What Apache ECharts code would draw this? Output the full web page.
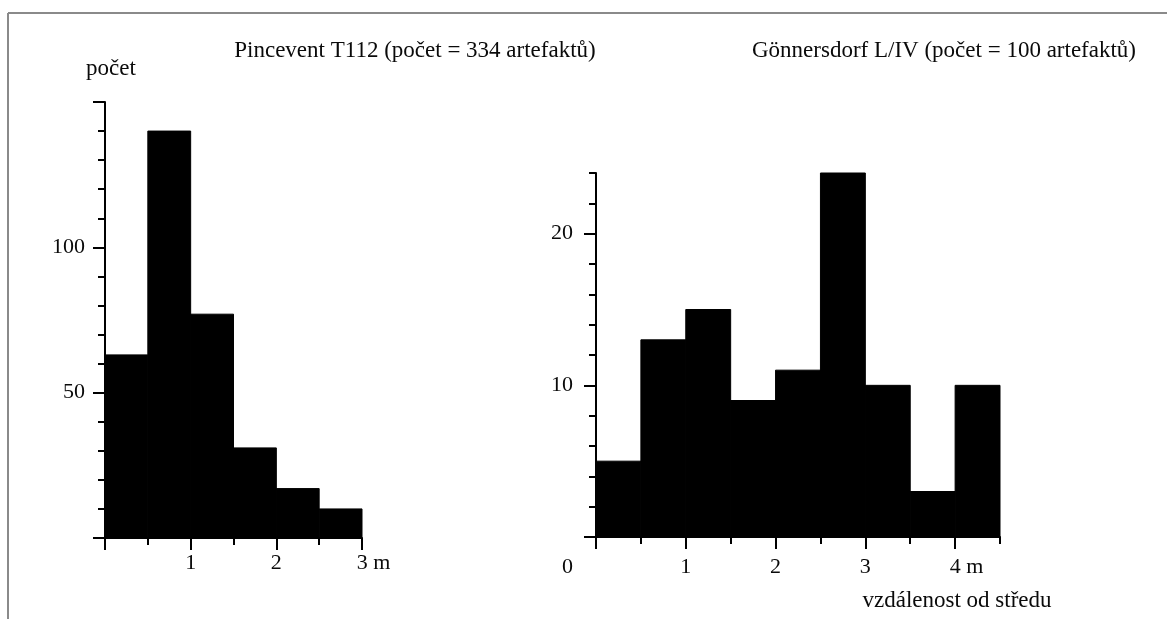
<!DOCTYPE html>
<html>
<head>
<meta charset="utf-8">
<script src="https://cdn.jsdelivr.net/npm/echarts@6/dist/echarts.min.js"></script>
<style>
html,body{margin:0;padding:0;background:#fff;}
#chart{width:1167px;height:619px;}
</style>
</head>
<body>
<div id="chart"></div>
<script>
// ---- data ----
const leftTitle = 'Pincevent T112 (počet = 334 artefaktů)';
const rightTitle = 'Gönnersdorf L/IV (počet = 100 artefaktů)';
const yName = 'počet';
const xName = 'vzdálenost od středu';

const binWidth = 0.5;
const leftBins = [0, 0.5, 1, 1.5, 2, 2.5];
const leftCounts = [63, 140, 77, 31, 17, 10];
const rightBins = [0, 0.5, 1, 1.5, 2, 2.5, 3, 3.5, 4];
const rightCounts = [5, 13, 15, 9, 11, 24, 10, 3, 10];

const leftXMajorTicks = [0, 1, 2, 3];
const leftXMinorTicks = [0.5, 1.5, 2.5];
const leftXLabels = [1, 2, 3];
const leftYMajorTicks = [0, 50, 100, 150];
const leftYMinorTicks = [10, 20, 30, 40, 60, 70, 80, 90, 110, 120, 130, 140];
const leftYLabels = [50, 100];

const rightXMajorTicks = [0, 1, 2, 3, 4];
const rightXMinorTicks = [0.5, 1.5, 2.5, 3.5, 4.5];
const rightXLabels = [0, 1, 2, 3, 4];
const rightYMajorTicks = [0, 10, 20];
const rightYMinorTicks = [2, 4, 6, 8, 12, 14, 16, 18, 22, 24];
const rightYLabels = [10, 20];

// ---- styling ----
const FONT = 'Liberation Serif';
const INK = '#0a0a0a';
const TICK_FS = 22;
const TEXT_FS = 23;
const lineStyle = {color: '#000', width: 2};
const labelBase = {color: INK, fontFamily: FONT, fontSize: TICK_FS};
const rich = {
  n: {fontFamily: FONT, fontSize: TICK_FS, color: INK},
  u: {fontFamily: FONT, fontSize: TICK_FS, color: INK},
  s: {fontFamily: FONT, fontSize: TICK_FS, width: 23},
  z: {fontFamily: FONT, fontSize: TICK_FS, color: INK},
  sp: {fontFamily: FONT, fontSize: TICK_FS, width: 57}
};

function binData(bins, counts) {
  return bins.map((b, i) => [b, b + binWidth, counts[i]]);
}
function renderBin(params, api) {
  const p0 = api.coord([api.value(0), 0]);
  const p1 = api.coord([api.value(1), api.value(2)]);
  return {
    type: 'rect',
    shape: {x: p0[0], y: p1[1], width: p1[0] - p0[0], height: p0[1] - p1[1]},
    style: {fill: '#000', stroke: '#000', lineWidth: 1}
  };
}

function xMajor(grid, max, ticks, labels, fmt, margin) {
  return {
    type: 'value', gridIndex: grid, min: 0, max: max, position: 'bottom',
    axisLine: {show: true, onZero: false, lineStyle: lineStyle},
    axisTick: {show: true, customValues: ticks, length: 12, lineStyle: lineStyle},
    axisLabel: Object.assign({show: true, customValues: labels, margin: margin, formatter: fmt, rich: rich}, labelBase),
    splitLine: {show: false}
  };
}
function xMinor(grid, max, ticks) {
  return {
    type: 'value', gridIndex: grid, min: 0, max: max, position: 'bottom',
    axisLine: {show: false, onZero: false},
    axisTick: {show: true, customValues: ticks, length: 7, lineStyle: lineStyle},
    axisLabel: {show: false},
    splitLine: {show: false}
  };
}
function yMajor(grid, max, ticks, labels, margin) {
  return {
    type: 'value', gridIndex: grid, min: 0, max: max, position: 'left',
    axisLine: {show: true, onZero: false, lineStyle: lineStyle},
    axisTick: {show: true, customValues: ticks, length: 12, lineStyle: lineStyle},
    axisLabel: Object.assign({show: true, customValues: labels, margin: margin}, labelBase),
    splitLine: {show: false}
  };
}
function yMinor(grid, max, ticks) {
  return {
    type: 'value', gridIndex: grid, min: 0, max: max, position: 'left',
    axisLine: {show: false, onZero: false},
    axisTick: {show: true, customValues: ticks, length: 7, lineStyle: lineStyle},
    axisLabel: {show: false},
    splitLine: {show: false}
  };
}

const chart = echarts.init(document.getElementById('chart'), null, {renderer: 'canvas'});
const option = {
  backgroundColor: '#fff',
  animation: false,
  grid: [
    {left: 105, right: 805, top: 102, bottom: 81},
    {left: 596, right: 167, top: 173, bottom: 82}
  ],
  xAxis: [
    xMajor(0, 3, leftXMajorTicks, leftXLabels, v => v === 3 ? '{s| }{n|3}{u| m}' : '{n|' + v + '}', 14),
    xMinor(0, 3, leftXMinorTicks),
    xMajor(1, 4.5, rightXMajorTicks, rightXLabels, v => v === 0 ? '{z|0}{sp| }' : (v === 4 ? '{s| }{n|4}{u| m}' : '{n|' + v + '}'), 19),
    xMinor(1, 4.5, rightXMinorTicks)
  ],
  yAxis: [
    yMajor(0, 150, leftYMajorTicks, leftYLabels, 20),
    yMinor(0, 150, leftYMinorTicks),
    yMajor(1, 24, rightYMajorTicks, rightYLabels, 23),
    yMinor(1, 24, rightYMinorTicks)
  ],
  series: [
    {type: 'custom', name: leftTitle, xAxisIndex: 0, yAxisIndex: 0, renderItem: renderBin,
     encode: {x: [0, 1], y: 2}, data: binData(leftBins, leftCounts), silent: true},
    {type: 'custom', name: rightTitle, xAxisIndex: 2, yAxisIndex: 2, renderItem: renderBin,
     encode: {x: [0, 1], y: 2}, data: binData(rightBins, rightCounts), silent: true}
  ],
  graphic: [
    {type: 'line', shape: {x1: 8, y1: 13, x2: 1167, y2: 13}, style: {stroke: '#8a8a8a', lineWidth: 2}},
    {type: 'line', shape: {x1: 8, y1: 13, x2: 8, y2: 619}, style: {stroke: '#8a8a8a', lineWidth: 2}},
    {type: 'text', x: 415, y: 51, style: {text: leftTitle, font: TEXT_FS + 'px "' + FONT + '"', fill: INK, align: 'center', verticalAlign: 'middle'}},
    {type: 'text', x: 944, y: 51, style: {text: rightTitle, font: TEXT_FS + 'px "' + FONT + '"', fill: INK, align: 'center', verticalAlign: 'middle'}},
    {type: 'text', x: 111, y: 69, style: {text: yName, font: TEXT_FS + 'px "' + FONT + '"', fill: INK, align: 'center', verticalAlign: 'middle'}},
    {type: 'text', x: 957, y: 601, style: {text: xName, font: TEXT_FS + 'px "' + FONT + '"', fill: INK, align: 'center', verticalAlign: 'middle'}}
  ]
};
chart.setOption(option);
</script>
</body>
</html>
